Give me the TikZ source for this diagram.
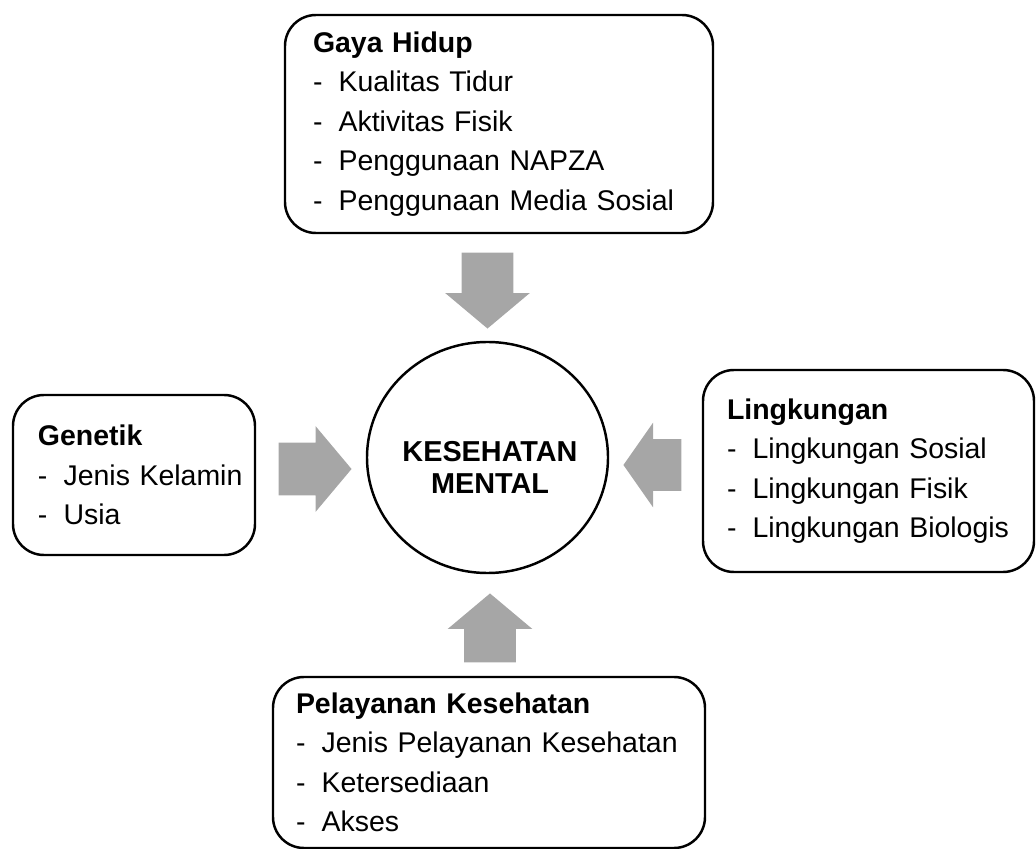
\documentclass[tikz,border=0pt]{standalone}
\usepackage{fontspec}
\setmainfont{Liberation Sans}
\usepackage{xcolor}
\usetikzlibrary{shapes.geometric, shapes.arrows, positioning, calc}
\definecolor{abu}{RGB}{166,166,166}
\newcommand{\poin}[1]{\mbox{\makebox[0.9em][l]{-}#1}}

\begin{document}
\begin{tikzpicture}[font=\fontsize{16.2}{22.4}\selectfont,
    kotak/.style={draw, line width=1.4pt, rounded corners=0.62cm, align=left, inner ysep=0pt},
    panah/.style={single arrow, fill=abu, draw=none, inner xsep=0pt, inner ysep=0.51cm, anchor=tip,
        single arrow head extend=0.33cm, single arrow tip angle=100}]
    \useasboundingbox (0,0) rectangle (20.72,-16.98);
    % faktor-faktor
    \node[kotak, minimum width=8.56cm, minimum height=4.36cm, inner xsep=0.56cm, text width=7.44cm] (gaya) at (9.98,-2.48)
        {\textbf{Gaya Hidup}\\\poin{Kualitas Tidur}\\\poin{Aktivitas Fisik}\\\poin{Penggunaan NAPZA}\\\poin{Penggunaan Media Sosial}};
    \node[kotak, minimum width=4.84cm, minimum height=3.2cm, inner xsep=0.5cm, text width=3.84cm] (genetik) at (2.68,-9.5)
        {\textbf{Genetik}\\\poin{Jenis Kelamin}\\\poin{Usia}};
    \node[kotak, minimum width=6.62cm, minimum height=4.04cm, inner xsep=0.48cm, text width=5.66cm] (lingkungan) at (17.37,-9.42)
        {\textbf{Lingkungan}\\\poin{Lingkungan Sosial}\\\poin{Lingkungan Fisik}\\\poin{Lingkungan Biologis}};
    \node[kotak, minimum width=8.64cm, minimum height=3.42cm, inner xsep=0.46cm, text width=7.72cm] (pelayanan) at (9.78,-15.25)
        {\textbf{Pelayanan Kesehatan}\\\poin{Jenis Pelayanan Kesehatan}\\\poin{Ketersediaan}\\\poin{Akses}};
    % pusat
    \node[ellipse, draw, line width=1.4pt, minimum width=4.82cm, minimum height=4.62cm] (pusat) at (9.75,-9.15) {};
    \node[font=\fontsize{16.4}{18}\selectfont\bfseries, align=center] (judul) at (9.8,-9.35) {KESEHATAN\\MENTAL};
    % panah blok
    \node[panah, minimum height=1.52cm, rotate=-90] (panahatas) at (9.75,-6.58) {};
    \node[panah, minimum height=1.46cm, inner ysep=0.52cm] (panahkiri) at (7.04,-9.38) {};
    \node[panah, minimum height=1.16cm, rotate=180, single arrow tip angle=110] (panahkanan) at (12.46,-9.30) {};
    \node[panah, minimum height=1.38cm, rotate=90] (panahbawah) at (9.8,-11.86) {};
\end{tikzpicture}
\end{document}
